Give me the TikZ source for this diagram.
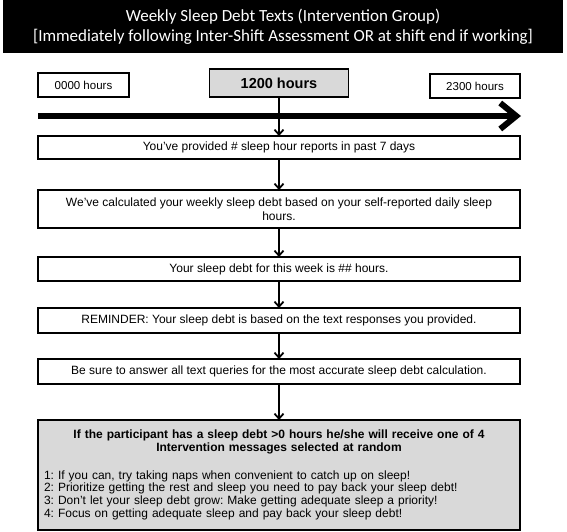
\documentclass[tikz,border=0pt]{standalone}
\usepackage{fontspec}
\setmainfont{Liberation Sans}
\newfontfamily\titlefont{Carlito}
\usetikzlibrary{positioning, arrows.meta}

\begin{document}
\frenchspacing
\begin{tikzpicture}[x=1pt, y=-1pt, thick,
			titlebox/.style={rectangle, fill=black, text=white, minimum width=560pt, minimum height=53pt, align=center, font=\titlefont\fontsize{17}{20.5}\selectfont},
			hourbox/.style={draw=black, rectangle, fill=white, line width=1.1pt, minimum width=91pt, minimum height=24pt, inner sep=0pt, outer sep=0pt, font=\fontsize{11.5}{13}\selectfont},
			box/.style={draw=black, rectangle, fill=white, line width=1.1pt, minimum width=482pt, inner sep=0pt, outer sep=0pt, align=center, font=\fontsize{12}{14}\selectfont},
			timeline/.style={-{Straight Barb[length=16pt, width=26pt]}, line width=6pt, draw=black},
			arrow/.style={-{Straight Barb[length=5pt, width=9pt]}, line width=1.8pt, draw=black}
			]
			\useasboundingbox (0,0) rectangle (567,532);
			\node[titlebox] (title) at (283,26.5) {Weekly Sleep Debt Texts (Intervention Group)\\ {[Immediately following Inter-Shift Assessment OR at shift end if working]}};
			\node[hourbox] (start) at (83.5,85) {0000 hours};
			\node[hourbox, fill=black!15, minimum width=139pt, minimum height=28pt, font=\fontsize{14.5}{16}\selectfont\bfseries] (noon) at (279,83) {1200 hours};
			\node[hourbox, minimum width=90pt] (end) at (475,86) {2300 hours};
			\coordinate (tstart) at (38,116);
			\coordinate (tend) at (521,116);
			\draw[timeline] (tstart) -- (tend);
			\node[box, minimum height=23pt] (provided) at (279,147.5) {You’ve provided \# sleep hour reports in past 7 days};
			\node[box, minimum height=38pt, below=31pt of provided] (calculated) {We’ve calculated your weekly sleep debt based on your self-reported daily sleep\\ hours.};
			\node[box, minimum height=24pt, below=29pt of calculated] (debt) {Your sleep debt for this week is \#\# hours.};
			\node[box, minimum height=25pt, below=27pt of debt] (reminder) {REMINDER: Your sleep debt is based on the text responses you provided.};
			\node[box, minimum height=25pt, below=26pt of reminder] (accurate) {Be sure to answer all text queries for the most accurate sleep debt calculation.};
			\node[box, fill=black!15, minimum height=110pt, below=36pt of accurate, text width=470pt, align=left, font=\fontsize{12}{12.7}\selectfont] (random) {{\centering\bfseries If the participant has a sleep debt >0 hours he/she will receive one of 4\\ Intervention messages selected at random\par}
				\vspace{15pt}
				1: If you can, try taking naps when convenient to catch up on sleep!\\
				2: Prioritize getting the rest and sleep you need to pay back your sleep debt!\\
				3: Don’t let your sleep debt grow: Make getting adequate sleep a priority!\\
				4: Focus on getting adequate sleep and pay back your sleep debt!};
			\draw[arrow] (noon) -- (provided);
			\draw[arrow] (provided) -- (calculated);
			\draw[arrow] (calculated) -- (debt);
			\draw[arrow] (debt) -- (reminder);
			\draw[arrow] (reminder) -- (accurate);
			\draw[arrow] (accurate) -- (random);
		\end{tikzpicture}
\end{document}
